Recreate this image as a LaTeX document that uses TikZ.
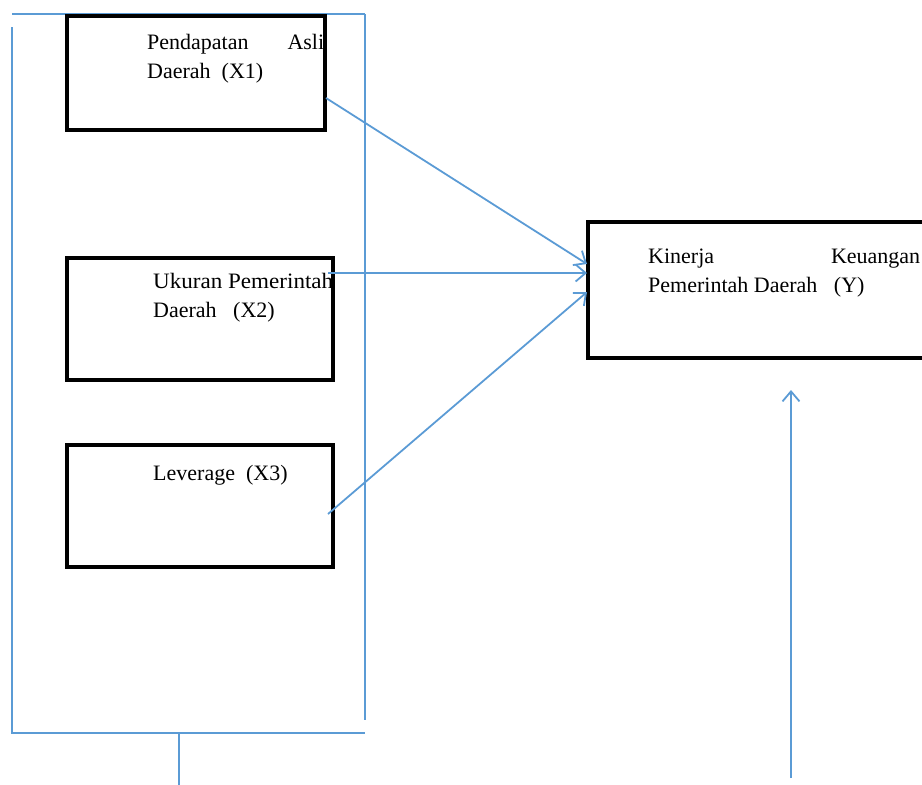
\documentclass[tikz,border=0pt]{standalone}
\usepackage{fontspec}
\setmainfont{Liberation Serif}
\usetikzlibrary{arrows.meta}
\definecolor{lineblue}{RGB}{91,155,213}
\tikzset{
  varbox/.style={draw=black, line width=3.4pt, fill=white},
  frameline/.style={draw=lineblue, line width=2pt},
  arr/.style={draw=lineblue, line width=1.8pt, -{Straight Barb[length=10pt,width=17pt,line width=1.8pt]}},
  lbl/.style={anchor=base west, inner sep=0pt, font=\fontsize{22}{29}\selectfont}
}
\begin{document}
\begin{tikzpicture}[x=1pt,y=-1pt]
\useasboundingbox (0,0) rectangle (922,785);
% frame
\draw[frameline] (12,14) -- (365,14);
\draw[frameline] (12,27) -- (12,733) -- (365,733);
\draw[frameline] (365,14) -- (365,720);
\draw[frameline] (179,733) -- (179,785);
% boxes
\path[varbox] (67,16) rectangle (325,130);
\path[varbox] (67,258) rectangle (333,380);
\path[varbox] (67,445) rectangle (333,567);
\path[varbox] (588,222) rectangle (926,358);
% labels
\node[lbl] (x1a) at (147,49) {\makebox[177pt][s]{Pendapatan\hfill Asli}};
\node[lbl] (x1b) at (147,78) {Daerah\ \ (X1)};
\node[lbl] (x2a) at (153,288) {\makebox[180pt][l]{\resizebox{180pt}{\height}{Ukuran Pemerintah}}};
\node[lbl] (x2b) at (153,317) {Daerah\ \ \ (X2)};
\node[lbl] (x3a) at (153,480) {Leverage\ \ (X3)};
\node[lbl] (ya) at (648,263) {\makebox[272pt][s]{Kinerja\hfill Keuangan}};
\node[lbl] (yb) at (648,292) {Pemerintah Daerah\ \ \ (Y)};
% connector end points
\coordinate (s1) at (326,98);
\coordinate (s2) at (328,273);
\coordinate (s3) at (328,514);
\coordinate (e1) at (587,264);
\coordinate (e2) at (587,273);
\coordinate (e3) at (587,292);
\coordinate (u0) at (791,778);
\coordinate (u1) at (791,390);
\draw[arr] (s1) -- (e1);
\draw[arr] (s2) -- (e2);
\draw[arr] (s3) -- (e3);
\draw[arr] (u0) -- (u1);
\end{tikzpicture}
\end{document}
